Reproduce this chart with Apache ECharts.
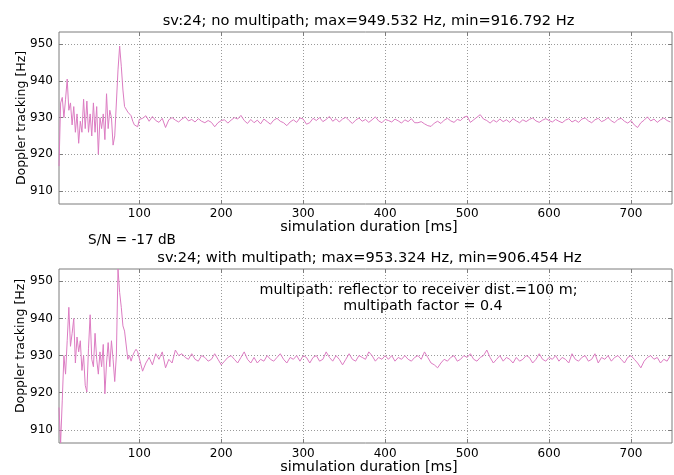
<!DOCTYPE html>
<html><head><meta charset="utf-8">
<script src="https://cdn.jsdelivr.net/npm/echarts@6/dist/echarts.min.js"></script>
<style>html,body{margin:0;padding:0;background:#fff}#c{width:674px;height:475px}</style>
</head><body><div id="c"></div>
<script>
// ---- tick labels / ranges ----
const xTicks = [100, 200, 300, 400, 500, 600, 700];
const yTicks = [910, 920, 930, 940, 950];
const xRange = [2, 750];
const yRange = [906.454, 953.324];

// ---- texts ----
const topTitle = 'sv:24; no multipath; max=949.532 Hz, min=916.792 Hz';
const bottomTitle = 'sv:24; with multipath; max=953.324 Hz, min=906.454 Hz';
const snLabel = 'S/N = -17 dB';
const note1 = 'multipath: reflector to receiver dist.=100 m;';
const note2 = 'multipath factor = 0.4';
const xName = 'simulation duration [ms]';
const yName = 'Doppler tracking [Hz]';

// ---- sample times: early part every 2 ms (2..100), later every 4 ms (104..748) ----
const earlyStart = 2, earlyStep = 2;
const lateStart = 104, lateStep = 4;

// ---- top plot: no multipath ----
const topEarly = [
  916.8, 934, 935.5, 930, 935, 940.5, 932, 934, 928, 933,
  926, 931, 923, 929, 926, 935, 927, 934.5, 926, 931,
  925, 934, 926, 933, 920, 930, 927, 931, 924, 936.5,
  927, 932, 930, 922.5, 925, 924.5, 943, 949.5, 944, 937.5,
  933, 932.5, 931.5, 931, 930.5, 929, 928, 928.5, 927.5, 929.5
];
const topLate = [
  929.8, 930.5, 929, 930.3, 929.2, 928.7, 929.8, 927.3, 929.4, 930, 929.3, 928.8, 929.6, 930.2, 929.1, 929.5, 928.8, 929.7, 929, 928.6, 929.2, 928.7, 927.5, 928.6, 929.2,
  929.4, 928.5, 929.3, 930, 929.6, 930.6, 929.2, 928.4, 929.5, 928.6, 929.3, 928.3, 929.6, 928.9, 928.2, 929.3, 929.8, 929, 928.6, 927.8, 928.8, 929.4, 928.7, 929.9, 929.6,
  928.2, 928.6, 929.8, 929.2, 930, 928.9, 929.5, 930.3, 929, 929.7, 928.8, 929.6, 930.1, 929.2, 928.4, 929.3, 929.9, 929, 929.5, 928.7, 929.4, 930.2, 929.1, 928.6, 929.5,
  929.2, 928.8, 929.6, 929.1, 928.5, 929.4, 928.9, 929.7, 928.6, 928.6, 928.9, 928.3, 927.8, 927.6, 928.5, 929, 928.4, 929.3, 929.8, 929.1, 928.7, 929.5, 929.2, 930.1, 930.4,
  928.7, 929.4, 930.1, 930.8, 929.6, 929.2, 928.5, 929.3, 928.8, 929.6, 928.9, 929.4, 928.7, 929.7, 929.1, 928.6, 929.4, 928.9, 929.5, 929.9, 929.1, 928.7, 929.3, 929.7, 929.2,
  928.8, 929.5, 929, 928.6, 929.3, 929.7, 928.8, 929.3, 928.7, 929.6, 929.9, 929.1, 928.6, 929.4, 929.8, 928.9, 929.3, 930, 929.1, 928.6, 929.5, 929.8, 929, 928.5, 929.2,
  928, 927.3, 928.6, 929.3, 930.2, 929.1, 929.6, 928.7, 929.4, 929.9, 929.2, 928.8
];

// ---- bottom plot: with multipath ----
const bottomEarly = [
  916, 906.5, 918, 930, 925, 934, 943, 932.5, 936, 940,
  928, 935, 931, 934, 926, 930, 922, 920.2, 932, 941,
  929, 927, 936, 929, 925, 931, 927, 933, 919.7, 928,
  933.5, 927, 934, 929, 923, 930, 953.3, 947, 943, 938,
  936.6, 937, 929, 930, 928.5, 930, 931, 931.7, 931, 930.5
];
const bottomLate = [
  925.8, 928, 929.5, 927.5, 930.5, 929, 931, 926.7, 929, 928, 931.5, 930, 930.5, 929.5, 929, 930.5, 929, 928.5, 930, 929.5, 928.5, 929, 930.5, 929, 927.5,
  928.5, 929.5, 930, 929, 928, 929.5, 931, 929, 928, 929.5, 928, 929, 928.5, 930, 929, 928.5, 929.5, 930.5, 929, 928, 929.5, 929, 930, 928.5, 930,
  929.5, 928, 929.5, 930, 928.5, 929, 931, 929.5, 928.5, 930, 929, 927.5, 929, 930.5, 929, 928.5, 930, 929.5, 929, 931, 930, 928.5, 929.5, 929, 930,
  929, 930, 928.5, 929.5, 929, 930, 929, 928.5, 929.5, 930, 929, 931, 929.5, 928, 927.5, 926.7, 928, 929, 928.5, 929.5, 930, 928.5, 929, 930, 929.5,
  930.5, 929, 928.5, 929.5, 930, 931.5, 929.5, 928, 929, 930, 928.5, 929.5, 929, 928, 929.5, 928.5, 929, 930, 929.5, 928, 929, 930.5, 929, 928.5, 929.5,
  929, 930, 928.5, 929.5, 929, 928, 930.5, 929, 928.5, 929.5, 930, 928.5, 929, 930.5, 928, 929.5, 929, 930, 928.5, 929.5, 930, 929, 928, 929.5, 930,
  929, 928, 926.7, 928.5, 929.5, 930, 929, 929.5, 928, 929, 928.5, 930
];

function pairs(early, late) {
  const out = [];
  early.forEach((v, i) => out.push([earlyStart + i * earlyStep, v]));
  late.forEach((v, i) => out.push([lateStart + i * lateStep, v]));
  return out;
}

const FONT = 'DejaVu Sans';
const gridColor = '#7d7d7d';
const lineColor = '#dc7cc2';

function xAxis(gi, pos, labels, margin) {
  return {
    type: 'value', gridIndex: gi, position: pos, min: xRange[0], max: xRange[1],
    axisLine: { show: false },
    axisTick: { show: true, inside: true, length: 4, customValues: xTicks, lineStyle: { color: gridColor } },
    axisLabel: { show: labels, customValues: xTicks, margin: margin, color: '#000', fontFamily: FONT, fontSize: 12 },
    splitLine: { show: labels, lineStyle: { color: '#9a9a9a', type: [1, 2], width: 1 } }
  };
}
function yAxis(gi, pos, labels) {
  return {
    type: 'value', gridIndex: gi, position: pos, min: yRange[0], max: yRange[1],
    axisLine: { show: false },
    axisTick: { show: true, inside: true, length: 4, customValues: yTicks, lineStyle: { color: gridColor } },
    axisLabel: { show: labels, customValues: yTicks, margin: 6, color: '#000', fontFamily: FONT, fontSize: 12 },
    splitLine: { show: labels, lineStyle: { color: '#9a9a9a', type: [1, 2], width: 1 } }
  };
}

function txt(text, x, y, size, align, rot) {
  return {
    type: 'text', x: x, y: y, rotation: rot || 0, silent: true,
    style: { text: text, font: size + 'px "' + FONT + '"', fill: '#000', align: align || 'center', verticalAlign: 'middle' }
  };
}

const chart = echarts.init(document.getElementById('c'), null, { renderer: 'canvas' });
chart.setOption({
  animation: false,
  backgroundColor: '#fff',
  grid: [
    { left: 59, right: 2, top: 32, height: 172, show: true, borderColor: gridColor, borderWidth: 1, backgroundColor: '#fff' },
    { left: 59, right: 2, top: 269, height: 174, show: true, borderColor: gridColor, borderWidth: 1, backgroundColor: '#fff' }
  ],
  xAxis: [xAxis(0, 'bottom', true, 4), xAxis(0, 'top', false, 4), xAxis(1, 'bottom', true, 5), xAxis(1, 'top', false, 5)],
  yAxis: [yAxis(0, 'left', true), yAxis(0, 'right', false), yAxis(1, 'left', true), yAxis(1, 'right', false)],
  series: [
    { type: 'line', xAxisIndex: 0, yAxisIndex: 0, data: pairs(topEarly, topLate), showSymbol: false, lineStyle: { color: lineColor, width: 1 }, z: 5 },
    { type: 'line', xAxisIndex: 2, yAxisIndex: 2, data: pairs(bottomEarly, bottomLate), showSymbol: false, lineStyle: { color: lineColor, width: 1 }, z: 5 }
  ],
  graphic: [
    txt(topTitle, 368.5, 21, 14.6),
    txt(xName, 369, 227, 14.4),
    txt(yName, 22, 118, 12.5, 'center', Math.PI / 2),
    txt(snLabel, 88, 240, 13.6, 'left'),
    txt(bottomTitle, 369.5, 258, 14.6),
    txt(note1, 418.5, 290, 14.3),
    txt(note2, 423, 306, 14.3),
    txt(xName, 369, 467, 14.4),
    txt(yName, 21, 346, 12.5, 'center', Math.PI / 2)
  ]
});
</script>
</body></html>
